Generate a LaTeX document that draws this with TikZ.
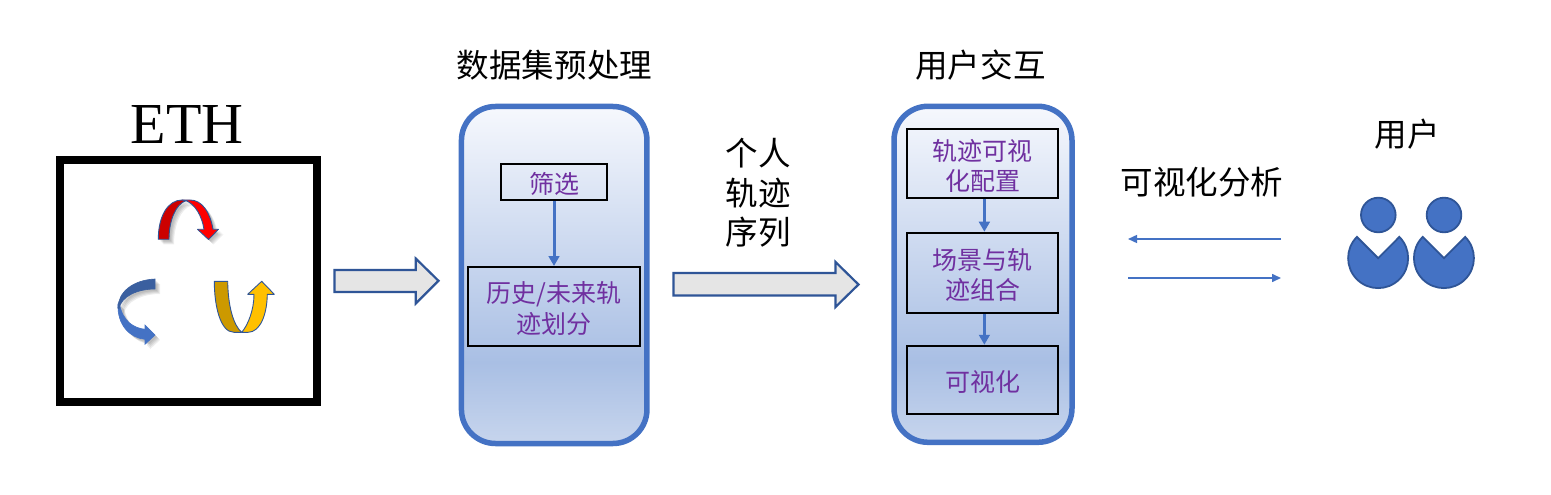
\documentclass[tikz,border=0pt]{standalone}
\usepackage{fontspec}
\setmainfont{Noto Sans CJK SC}
\newfontfamily\etfont{Liberation Serif}
\usetikzlibrary{arrows.meta,calc}
\definecolor{mainblue}{HTML}{4472C4}
\definecolor{edgeblue}{HTML}{2F5597}
\definecolor{txtpurple}{HTML}{7030A0}
\definecolor{shbottom}{HTML}{C7D5ED}
\definecolor{shmid}{HTML}{A9BFE4}
\definecolor{shtop}{HTML}{F6F8FD}
\definecolor{golddark}{HTML}{CC9900}
\definecolor{goldlight}{HTML}{FFC000}
\definecolor{reddark}{HTML}{CC0000}
\definecolor{bluedark}{HTML}{3A5F9F}
\pgfdeclareverticalshading{panelshade}{100bp}{color(0bp)=(shbottom);color(25bp)=(shbottom);color(37bp)=(shmid);color(75bp)=(shtop);color(100bp)=(shtop)}
\newcommand{\pu}{0.75pt}
\newcommand{\bt}[1]{\raisebox{-4.1pt}[\height][\depth]{\begin{tabular}{@{}c@{}}#1\end{tabular}}}
\newcommand{\redA}{(158.3,239.3) .. controls (158.3,216) and (168,200) .. (182,200) -- (186,200.7) .. controls (176,204) and (169,220) .. (169,239.3) -- cycle}
\newcommand{\redB}{(182,200) -- (190,200) .. controls (202,200) and (210,212) .. (213,229.3) -- (218.5,229.3) -- (208.5,239.5) -- (197.5,229.3) -- (204,229.3) .. controls (202,216) and (195,204) .. (186,200.7) -- cycle}
\newcommand{\bluA}{(155,279) .. controls (133,280) and (118,292) .. (118,308) -- (119,309) .. controls (121,296) and (138,289) .. (155,289) -- cycle}
\newcommand{\bluB}{(118,304) .. controls (117,325) and (130,338) .. (145,339.3) -- (145,344.3) -- (155,335) -- (145,325) -- (145,329.3) .. controls (134,328) and (123,322) .. (119.5,304) -- cycle}
\tikzset{
  x=0.75pt,y=-0.75pt,
  panel/.style={draw=mainblue,line width=5.5*\pu,rounded corners=34*\pu,shading=panelshade,inner sep=0pt},
  stepbox/.style={draw=black,line width=2*\pu,fill=none,inner sep=0pt,align=center,text=txtpurple,font=\fontsize{18.75}{22.5}\selectfont},
  title/.style={inner sep=0pt,align=center,text=black,font=\fontsize{24.4}{29.6}\selectfont},
  flow/.style={draw=mainblue,line width=3*\pu,-{Triangle[width=10.7*\pu,length=10*\pu]}},
  thinflow/.style={draw=mainblue,line width=1.5*\pu,-{Triangle[width=8*\pu,length=9*\pu]}},
  bigarrow/.style={draw=edgeblue,line width=2.2*\pu,fill=black!10,line join=miter},
  ribbon/.style={draw=edgeblue,line width=0.9*\pu,line join=round},
  shadowlayer/.style={fill=black,fill opacity=0.07,draw=none},
  person/.style={draw=edgeblue,line width=1.8*\pu,fill=mainblue}
}
\begin{document}
\begin{tikzpicture}
\useasboundingbox (0,0) rectangle (1551,495);
\fill[white] (0,0) rectangle (1551,495);

% ETH
\node[draw=black,line width=8*\pu,minimum width=257*\pu,minimum height=242*\pu,inner sep=0pt] (ethbox) at (188.5,281) {};
\node[inner sep=0pt,font=\etfont\fontsize{43.5}{50}\selectfont] (ethlabel) at (187,125) {ETH};

% shadows
\foreach \d in {2,3,4,5}{
  \fill[shadowlayer,shift={(\d,\d)}] \redA;
  \fill[shadowlayer,shift={(\d,\d)}] \redB;
  \fill[shadowlayer,shift={(\d,\d)}] \bluA;
  \fill[shadowlayer,shift={(\d,\d)}] \bluB;
}
% red
\path[ribbon,fill=reddark] \redA;
\path[ribbon,fill=red] \redB;
% blue
\path[fill=mainblue,draw=mainblue,line width=0.6*\pu] \bluB;
\path[fill=bluedark,draw=bluedark,line width=0.6*\pu] \bluA;
% gold
\path[ribbon,fill=golddark] (214.3,281.3) .. controls (214.3,305) and (220,332.3) .. (234,332.3) -- (241.7,332.3) .. controls (233,325) and (228,305) .. (227.7,281.3) -- cycle;
\path[ribbon,fill=goldlight] (241.7,332.3) .. controls (248,325) and (254,310) .. (254,294.3) -- (247.7,294.3) -- (261.7,281.3) -- (274.3,294.3) -- (267.3,294.3) .. controls (267,315) and (260,332.3) .. (248,332.3) -- cycle;

% big arrows
\path[bigarrow] (334.5,270) -- (415.7,270) -- (415.7,258.5) -- (438.5,280.8) -- (415.7,303.5) -- (415.7,292) -- (334.5,292) -- cycle;
\path[bigarrow] (673.5,273) -- (835.5,273) -- (835.5,262) -- (858.5,284.5) -- (835.5,307) -- (835.5,295.5) -- (673.5,295.5) -- cycle;

% panel 1
\node[title] (t1) at (554.5,65) {数据集预处理};
\node[panel,minimum width=185.5*\pu,minimum height=337*\pu] (p1) at (554.2,275) {};
\node[stepbox,minimum width=106*\pu,minimum height=36*\pu] (s1) at (554,182) {\bt{筛选}};
\node[stepbox,minimum width=172.5*\pu,minimum height=79*\pu] (s2) at (553.8,306.5) {\bt{历史/未来轨\\迹划分}};
\draw[flow] (s1.south) -- (s1.south |- s2.north);

% middle label
\node[title] (m1) at (758,193) {个人\\轨迹\\序列};

% panel 2
\node[title] (t2) at (980.5,65) {用户交互};
\node[panel,minimum width=178*\pu,minimum height=336*\pu] (p2) at (983,274.3) {};
\node[stepbox,minimum width=151.5*\pu,minimum height=68.5*\pu] (b1) at (982.5,163.7) {\bt{轨迹可视\\化配置}};
\node[stepbox,minimum width=151.5*\pu,minimum height=80.5*\pu] (b2) at (982.5,273) {\bt{场景与轨\\迹组合}};
\node[stepbox,minimum width=151.5*\pu,minimum height=68.5*\pu] (b3) at (982.5,380) {\bt{可视化}};
\draw[flow] ([xshift=1.4pt]b1.south) -- ([xshift=1.4pt]b2.north);
\draw[flow] ([xshift=1.4pt]b2.south) -- ([xshift=1.4pt]b3.north);

% right
\node[title] (va) at (1202,182) {可视化分析};
\node[title] (u) at (1407.5,134) {用户};
\coordinate (la) at (1281,239);
\coordinate (lb) at (1128,239);
\coordinate (lc) at (1128,278);
\coordinate (ld) at (1281,278);
\draw[thinflow] (la) -- (lb);
\draw[thinflow] (lc) -- (ld);

% persons
\node[person,circle,minimum size=34.6*\pu,inner sep=0pt] (h1) at (1378.3,215) {};
\node[person,circle,minimum size=34.6*\pu,inner sep=0pt] (h2) at (1444,215) {};
\path[person] (1378.2,258.2) -- (1356.9,236.9) arc[start angle=225,end angle=-45,x radius=30,y radius=30] -- cycle;
\path[person] (1444,258.2) -- (1422.7,236.9) arc[start angle=225,end angle=-45,x radius=30,y radius=30] -- cycle;
\end{tikzpicture}
\end{document}
